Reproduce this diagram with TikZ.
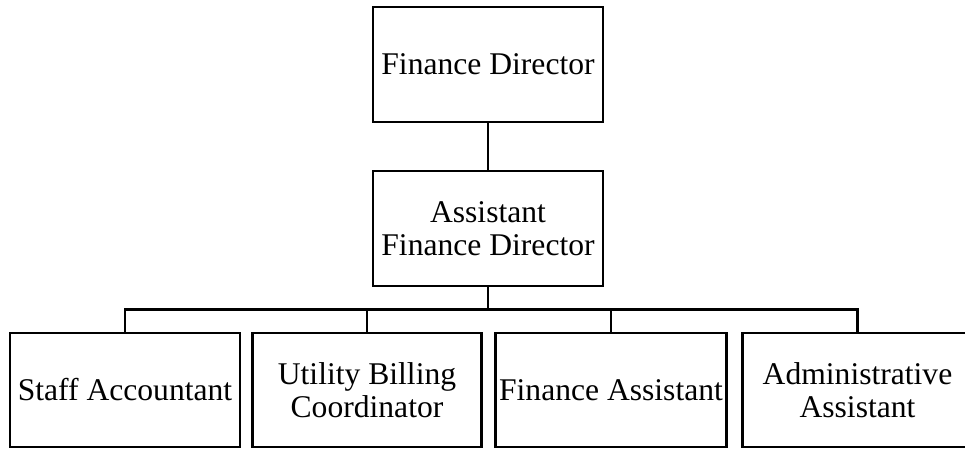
\documentclass[tikz,border=0pt]{standalone}
\usepackage{fontspec}
\setmainfont{Liberation Serif}
\begin{document}
\begin{tikzpicture}[x=1pt,y=-1pt,
  box/.style={draw=black, line width=2.8pt, fill=white, rectangle, inner sep=0pt,
    minimum width=230pt, minimum height=115pt, align=center,
    font=\fontsize{31.6}{33}\selectfont},
  conn/.style={draw=black, line width=2.6pt}]
\useasboundingbox (0,0) rectangle (965,448);
\node[box] (fd) at (488,64.5) {Finance Director};
\node[box] (afd) at (488,228.5) {Assistant\\Finance Director};
\node[box, minimum height=114pt] (staff) at (125,390) {Staff Accountant};
\node[box, minimum width=229pt, minimum height=114pt] (util) at (367,390) {Utility Billing\\Coordinator};
\node[box, minimum width=231pt, minimum height=114pt] (fa) at (611,390) {Finance Assistant};
\node[box, minimum height=114pt] (admin) at (857.5,390) {Administrative\\Assistant};
\coordinate (bar) at (488,309.5);
\draw[conn] (fd.south) -- (afd.north);
\draw[conn] (afd.south) -- (bar);
\draw[conn] (staff.north) |- (bar);
\draw[conn] (util.north) |- (bar);
\draw[conn] (fa.north) |- (bar);
\draw[conn] (admin.north) |- (bar);
\end{tikzpicture}
\end{document}
